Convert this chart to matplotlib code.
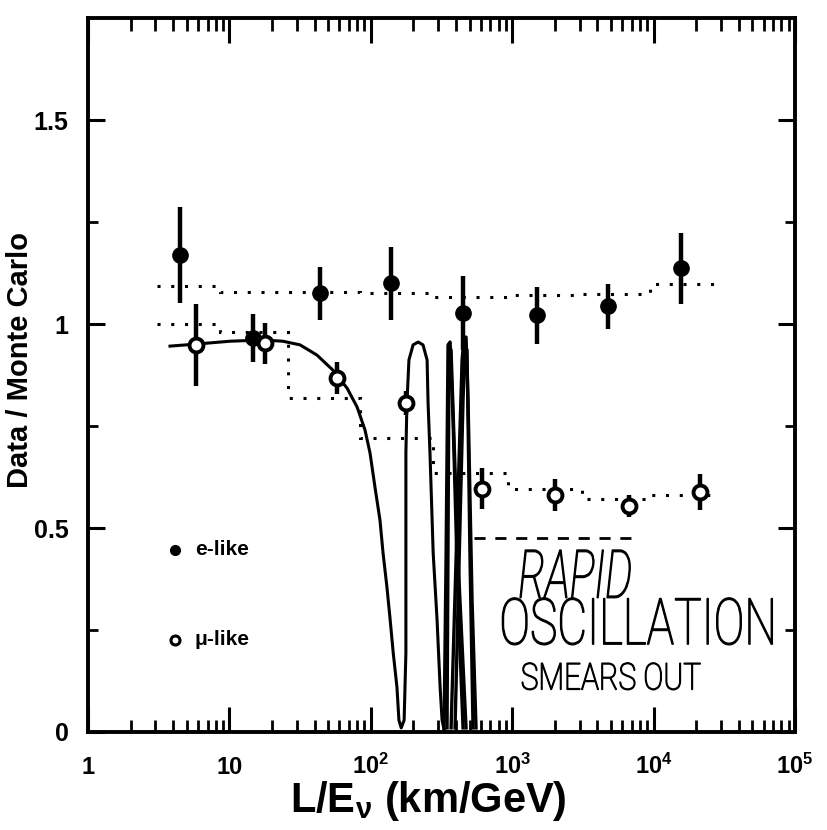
import matplotlib
matplotlib.use("Agg")
import matplotlib.pyplot as plt
from matplotlib.ticker import LogLocator, NullFormatter
from matplotlib.textpath import TextPath
from matplotlib.patches import PathPatch
from matplotlib.font_manager import FontProperties
from matplotlib.transforms import Affine2D

plt.rcParams['font.family'] = ['Liberation Sans', 'DejaVu Sans']
plt.rcParams['font.weight'] = 'bold'
plt.rcParams['axes.labelweight'] = 'bold'
plt.rcParams['mathtext.fontset'] = 'custom'
plt.rcParams['mathtext.rm'] = 'Liberation Sans:bold'
plt.rcParams['mathtext.it'] = 'Liberation Sans:bold'
plt.rcParams['mathtext.bf'] = 'Liberation Sans:bold'

# data points
e_le = [4.47, 14.7, 43.7, 139, 449, 1497, 4757, 15630]
e_ratio = [1.169, 0.966, 1.076, 1.100, 1.027, 1.022, 1.044, 1.137]
e_err = [0.118, 0.058, 0.065, 0.090, 0.090, 0.070, 0.055, 0.087]

mu_le = [5.81, 17.9, 57.7, 177, 611, 2009, 6700, 21300]
mu_ratio = [0.949, 0.953, 0.868, 0.806, 0.596, 0.581, 0.553, 0.588]
mu_err = [0.100, 0.050, 0.040, 0.030, 0.050, 0.040, 0.027, 0.045]

# MC expectation histograms (dotted)
bin_edges = [3.1, 8.6, 26, 84, 275, 930, 3100, 9400, 29000]
e_mc = [1.093, 1.078, 1.078, 1.075, 1.066, 1.071, 1.074, 1.098]
mu_mc = [1.0, 0.98, 0.82, 0.72, 0.635, 0.595, 0.57, 0.58]

# averaged level (dashed)
avg_le = [537, 8000]
avg_ratio = [0.475, 0.475]

# oscillation curve, first two wiggles
osc_le = [3.80, 5.81, 10.1, 17.3, 23.9, 31.6, 41.6, 54.0, 67.9, 79.9, 91.0, 98.7,
          107, 116, 122, 130, 137, 144, 153, 158, 164, 172, 177, 177, 177, 180,
          186, 199, 216, 234, 250, 254, 262, 276, 294, 309, 319, 330]
osc_ratio = [0.946, 0.951, 0.958, 0.961, 0.958, 0.949, 0.924, 0.887, 0.843, 0.797,
             0.740, 0.684, 0.600, 0.520, 0.439, 0.355, 0.275, 0.194, 0.110, 0.029,
             0.010, 0.029, 0.194, 0.520, 0.684, 0.806, 0.912, 0.949, 0.956, 0.949,
             0.912, 0.806, 0.684, 0.439, 0.275, 0.110, 0.029, 0.005]

# the tangle of fast wiggles after that
rapid_le = [
    [329.6, 340.3, 351.6, 363.4, 381.5, 413.8, 448.9],
    [369.4, 400.5, 441.9, 456.3, 471.4, 486.9, 519.7, 554.7],
    [346.0, 357.5, 369.4, 413.8, 471.4],
    [394.0, 448.9, 463.8, 479.0, 503.0, 528.2],
]
rapid_ratio = [
    [0.005, 0.422, 0.949, 0.956, 0.765, 0.324, 0.010],
    [0.010, 0.422, 0.912, 0.968, 0.968, 0.814, 0.324, 0.010],
    [0.010, 0.949, 0.936, 0.422, 0.010],
    [0.010, 0.814, 0.949, 0.936, 0.422, 0.010],
]

xtick_pos = [1, 10, 100, 1000, 10000, 100000]
xtick_lab = ['1', '10', r'$10^{2}$', r'$10^{3}$', r'$10^{4}$', r'$10^{5}$']
ytick_pos = [0, 0.5, 1, 1.5]
ytick_lab = ['0', '0.5', '1', '1.5']

fig = plt.figure(figsize=(8.28, 8.30), dpi=100)
ax = fig.add_axes([0.1063, 0.1181, 0.8539, 0.860])
ax.set_xscale('log')
ax.set_xlim(1, 1e5)
ax.set_ylim(0, 1.75)

dots = (0, (1, 3.5))
ax.stairs(e_mc, bin_edges, baseline=None, color='black', lw=2.2, linestyle=dots)
ax.stairs(mu_mc, bin_edges, baseline=None, color='black', lw=2.2, linestyle=dots)
ax.plot(avg_le, avg_ratio, color='black', lw=2, linestyle=(0, (4, 3.5)))

ax.plot(osc_le, osc_ratio, color='black', lw=2.2)
for xs, ys in zip(rapid_le, rapid_ratio):
    ax.plot(xs, ys, color='black', lw=2.4)

ax.errorbar(e_le, e_ratio, yerr=e_err, fmt='o', color='black', ms=11,
            elinewidth=3.2, capsize=0, zorder=5)
ax.errorbar(mu_le, mu_ratio, yerr=mu_err, fmt='o', color='black', mfc='white',
            mec='black', mew=2.8, ms=10, elinewidth=3.2, capsize=0, zorder=5)

# legend drawn by hand like in the original
ax.plot([0.123], [0.255], 'o', color='black', ms=7, transform=ax.transAxes)
ax.plot([0.123], [0.129], 'o', mfc='white', mec='black', mew=2.2, ms=6.5,
        transform=ax.transAxes)
ax.text(0.151, 0.255, 'e-like', transform=ax.transAxes, fontsize=15, va='center')
ax.text(0.151, 0.129, 'μ-like', transform=ax.transAxes, fontsize=15, va='center')


# hand-written note: thin letters squeezed into the box they fill on the scan
def hand_text(s, x0, y0, w, h, italic=False):
    prop = FontProperties(family=['Roboto', 'DejaVu Sans'], weight='light',
                          style='italic' if italic else 'normal')
    tp = TextPath((0, 0), s, size=10, prop=prop)
    bb = tp.get_extents()
    tr = (Affine2D().translate(-bb.x0, -bb.y0).scale(w / bb.width, h / bb.height)
          .translate(x0, y0) + ax.transAxes)
    ax.add_patch(PathPatch(tp, transform=tr, fc='black', ec='black', lw=0.9, zorder=6))


hand_text('RAPID', 0.611, 0.188, 0.156, 0.067, italic=True)
hand_text('OSCILLATION', 0.586, 0.122, 0.382, 0.066)
hand_text('SMEARS OUT', 0.614, 0.059, 0.252, 0.038)

ax.set_xticks(xtick_pos, xtick_lab, fontsize=17)
ax.xaxis.set_minor_locator(LogLocator(base=10, subs=range(2, 10), numticks=20))
ax.xaxis.set_minor_formatter(NullFormatter())
for lbl in ax.get_xticklabels():
    lbl.set_verticalalignment('baseline')
ax.set_yticks(ytick_pos, ytick_lab, fontsize=18)
ax.set_yticks([0.25, 0.75, 1.25], minor=True)

ax.tick_params(which='both', direction='in', top=True, right=True)
ax.tick_params(axis='x', which='major', length=18, width=2.2, pad=30)
ax.tick_params(axis='x', which='minor', length=9, width=2)
ax.tick_params(axis='y', which='major', length=12, width=2.2, pad=14)
ax.tick_params(axis='y', which='minor', length=7, width=2)
for sp in ax.spines.values():
    sp.set_linewidth(2.8)

ax.set_xlabel(r'L/E$_{\nu}$ (km/GeV)', fontsize=30)
ax.xaxis.set_label_coords(0.481, -0.066)
ax.set_ylabel('Data / Monte Carlo', fontsize=21, fontweight='bold')
ax.yaxis.set_label_coords(-0.077, 0.521)

fig.savefig('out.png', dpi=100)
